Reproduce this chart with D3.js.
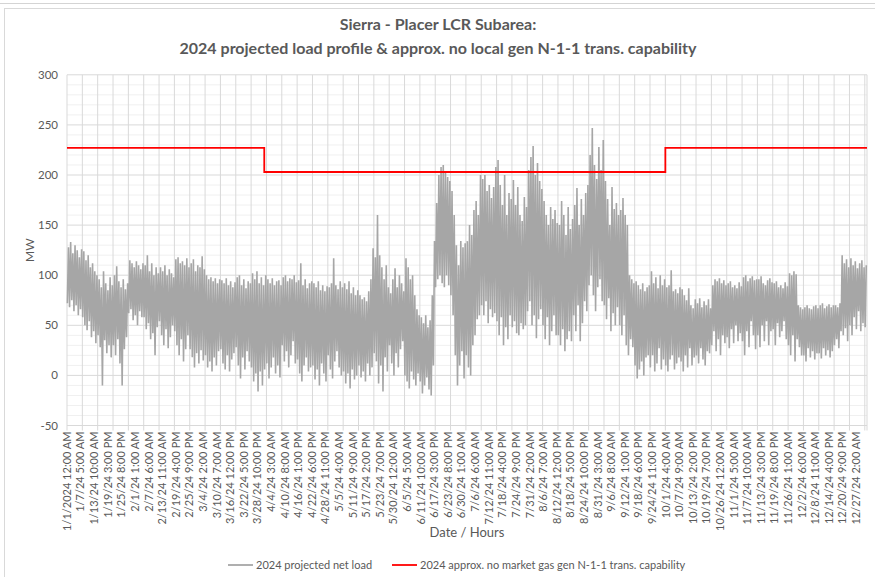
<!DOCTYPE html>
<html>
<head>
<meta charset="utf-8">
<script src="https://cdn.jsdelivr.net/npm/d3@7"></script>
<style>
  body { margin: 0; background: #fff; }
  text { font-family: Lato, "Open Sans", sans-serif; fill: #595959; }
</style>
</head>
<body>
<div id="chart"></div>
<script>
// hourly profile summarised as each day's low and peak (MW), one row per week
var dailyHigh = [
  128,133,122,130,125,118,126, 124,115,120,108,112,104,100, 96,88,104,92,85,98,90,
  100,109,94,88,96,86,92, 115,112,108,114,110,106,112, 110,120,104,112,100,108,102,
  108,104,110,100,106,102,98, 116,118,112,114,110,117,108, 112,116,104,110,108,119,106,
  100,96,98,94,97,92,96, 95,92,97,90,94,88,93, 98,100,90,96,87,94,92,
  102,96,104,92,98,90,100, 96,92,97,90,94,95,90, 98,100,94,97,96,100,93,
  95,112,90,96,87,92,94, 92,88,94,85,90,84,89, 88,92,117,90,86,94,88,
  92,86,94,82,88,80,85, 80,76,78,74,84,96,127, 118,160,120,108,96,110,88,
  82,96,107,88,100,92,84, 117,108,96,100,80,66,60, 58,52,60,48,55,80,134,
  172,200,208,210,204,198,194, 184,160,130,110,134,128,132, 134,150,140,165,174,160,200,
  196,200,184,190,177,188,208, 215,190,170,200,160,182,176, 195,170,188,160,154,178,168,
  205,218,229,200,212,194,186, 174,160,150,168,156,165,152, 150,174,160,140,168,146,156,
  170,187,150,176,160,182,190, 220,247,210,196,228,205,235, 194,176,150,188,166,172,160,
  165,177,160,150,100,96,92, 94,90,86,92,84,88,90, 104,92,98,87,100,90,96,
  88,90,105,84,86,82,88, 86,80,75,87,70,67,76, 72,77,68,74,70,76,67,
  90,96,94,97,92,95,90, 92,94,88,90,87,93,89, 98,100,94,97,99,95,96,
  96,99,92,90,95,97,93, 92,94,88,90,87,93,89, 102,100,104,101,70,68,66,
  68,70,67,66,69,70,67, 70,72,67,69,71,68,70, 70,68,72,120,112,116,108,
  117,110,114,107,112,115,108, 110
];
var dailyLow = [
  72,68,75,64,70,60,66, 58,50,45,54,38,44,32, 40,28,-10,35,22,30,18,
  30,20,36,12,-10,26,38, 62,66,55,60,50,64,58, 58,46,52,36,42,20,48,
  54,40,30,46,27,38,50, 44,30,20,36,14,26,40, 26,18,8,22,12,25,15,
  20,8,14,4,18,10,24, 26,12,6,20,4,16,22, 28,10,-3,18,6,24,14,
  8,-6,2,-16,4,-10,6, 12,-3,8,18,2,10,-2, 30,14,24,8,20,34,12,
  16,2,-6,10,18,4,8, 10,-4,6,-10,12,2,-6, 20,6,-3,14,24,8,0,
  4,-8,2,-13,6,-4,0, 10,-2,4,-6,12,0,8, 22,14,-8,10,-16,18,4,
  30,12,0,22,8,26,34, 0,-6,-13,4,-4,-10,2, -6,-18,-10,-2,-14,-20,10,
  88,96,100,92,88,100,90, 80,60,20,-10,10,24,-3, 20,8,0,30,40,56,60,
  70,60,74,52,66,58,62, 54,40,58,30,48,36,60, 48,54,42,40,52,46,50,
  64,74,50,60,37,56,66, 50,36,58,30,44,60,40, 40,30,46,24,36,44,34,
  60,44,70,34,52,74,64, 90,100,80,64,88,96,74, 70,56,77,44,62,50,68,
  50,40,60,30,20,36,28, 10,-3,6,14,0,18,20, 8,20,4,12,27,6,16,
  10,4,16,20,6,12,18, 14,4,20,8,27,10,18, 20,12,27,16,10,24,22,
  30,44,24,36,20,40,32, 38,27,46,32,50,34,42, 34,20,44,28,54,40,26,
  40,28,50,34,54,30,44, 46,30,52,38,44,54,36, 30,20,40,14,36,28,20,
  20,14,27,18,24,16,22, 22,17,27,20,25,18,24, 30,36,27,44,40,47,34,
  50,40,58,46,64,44,52, 48
];
var lowHour = 4, peakHour = 16;

// no local gen N-1-1 capability, stepped by season
var capStartHour = [0, 2160, 6552];
var capValue = [227, 203, 227];

var totalHours = 8760;
var gridEvery = 168;
var labelEvery = 149;
var yTicks = [-50, 0, 50, 100, 150, 200, 250, 300];
var tickLabels = ["1/1/2024 12:00 AM","1/7/24 5:00 AM","1/13/24 10:00 AM","1/19/24 3:00 PM","1/25/24 8:00 PM",
  "2/1/24 1:00 AM","2/7/24 6:00 AM","2/13/24 11:00 AM","2/19/24 4:00 PM","2/25/24 9:00 PM",
  "3/4/24 2:00 AM","3/10/24 7:00 AM","3/16/24 12:00 PM","3/22/24 5:00 PM","3/28/24 10:00 PM",
  "4/4/24 3:00 AM","4/10/24 8:00 AM","4/16/24 1:00 PM","4/22/24 6:00 PM","4/28/24 11:00 PM",
  "5/5/24 4:00 AM","5/11/24 9:00 AM","5/17/24 2:00 PM","5/23/24 7:00 PM","5/30/24 12:00 AM",
  "6/5/24 5:00 AM","6/11/24 10:00 AM","6/17/24 3:00 PM","6/23/24 8:00 PM","6/30/24 1:00 AM",
  "7/6/24 6:00 AM","7/12/24 11:00 AM","7/18/24 4:00 PM","7/24/24 9:00 PM","7/31/24 2:00 AM",
  "8/6/24 7:00 AM","8/12/24 12:00 PM","8/18/24 5:00 PM","8/24/24 10:00 PM","8/31/24 3:00 AM",
  "9/6/24 8:00 AM","9/12/24 1:00 PM","9/18/24 6:00 PM","9/24/24 11:00 PM","10/1/24 4:00 AM",
  "10/7/24 9:00 AM","10/13/24 2:00 PM","10/19/24 7:00 PM","10/26/24 12:00 AM","11/1/24 5:00 AM",
  "11/7/24 10:00 AM","11/13/24 3:00 PM","11/19/24 8:00 PM","11/26/24 1:00 AM","12/2/24 6:00 AM",
  "12/8/24 11:00 AM","12/14/24 4:00 PM","12/20/24 9:00 PM","12/27/24 2:00 AM"];

var width = 875, height = 577;
var plotLeft = 67, plotRight = 867, plotTop = 74.8, plotBottom = 425.5;

var svg = d3.select("#chart").append("svg")
  .attr("width", width).attr("height", height);

// frame bits from the screenshot
svg.append("line").attr("x1", 0).attr("x2", width).attr("y1", 3.5).attr("y2", 3.5)
  .attr("stroke", "#d4d4d4");
svg.append("rect").attr("x", 4.5).attr("y", 8.5).attr("width", width + 10).attr("height", height)
  .attr("fill", "#fff").attr("stroke", "#d9d9d9");

var x = d3.scaleLinear().domain([0, totalHours]).range([plotLeft, plotRight]);
var y = d3.scaleLinear().domain([-50, 300]).range([plotBottom, plotTop]);

// minor + major horizontal grid
svg.append("g").selectAll("line")
  .data(d3.range(-50, 301, 10).filter(function(v){ return v % 50 != 0; }))
  .enter().append("line")
  .attr("x1", plotLeft).attr("x2", plotRight)
  .attr("y1", function(d){ return y(d); }).attr("y2", function(d){ return y(d); })
  .attr("stroke", "#f0f0f0");
svg.append("g").selectAll("line")
  .data(yTicks)
  .enter().append("line")
  .attr("x1", plotLeft).attr("x2", plotRight)
  .attr("y1", function(d){ return y(d); }).attr("y2", function(d){ return y(d); })
  .attr("stroke", "#d9d9d9");

// weekly vertical grid with small ticks under the axis
var gridHours = d3.range(0, totalHours, gridEvery).concat([totalHours]);
svg.append("g").selectAll("line")
  .data(gridHours)
  .enter().append("line")
  .attr("x1", function(d){ return x(d); }).attr("x2", function(d){ return x(d); })
  .attr("y1", plotTop).attr("y2", plotBottom + 5)
  .attr("stroke", "#d9d9d9");

// y axis labels
svg.append("g").selectAll("text")
  .data(yTicks)
  .enter().append("text")
  .attr("x", plotLeft - 9).attr("y", function(d){ return y(d); })
  .attr("dy", "0.35em").attr("text-anchor", "end")
  .style("font-size", "11.5px")
  .text(function(d){ return d; });

svg.append("text")
  .attr("transform", "translate(34," + ((plotTop + plotBottom) / 2) + ") rotate(-90)")
  .attr("text-anchor", "middle").style("font-size", "12px")
  .text("MW");

// x labels, rotated
svg.append("g").selectAll("text")
  .data(tickLabels)
  .enter().append("text")
  .attr("transform", function(d, i){ return "translate(" + x(i * labelEvery) + "," + (plotBottom + 6) + ") rotate(-90)"; })
  .attr("dy", "0.35em").attr("text-anchor", "end")
  .style("font-size", "11px")
  .text(function(d){ return d; });

svg.append("text")
  .attr("x", (plotLeft + plotRight) / 2).attr("y", 537)
  .attr("text-anchor", "middle").style("font-size", "13px")
  .text("Date / Hours");

// load series: low then peak for every day
var loadPts = [];
dailyHigh.forEach(function(h, d){
  loadPts.push([d * 24 + lowHour, dailyLow[d]]);
  loadPts.push([d * 24 + peakHour, h]);
});
var line = d3.line()
  .x(function(d){ return x(d[0]); })
  .y(function(d){ return y(d[1]); });
svg.append("path")
  .datum(loadPts)
  .attr("d", line)
  .attr("fill", "none")
  .attr("stroke", "#a6a6a6")
  .attr("stroke-width", 1.6)
  .attr("stroke-linejoin", "miter")
  .attr("stroke-miterlimit", 2);

// capability step line
var capPts = capStartHour.map(function(h, i){ return [h, capValue[i]]; });
capPts.push([totalHours, capValue[capValue.length - 1]]);
svg.append("path")
  .datum(capPts)
  .attr("d", d3.line().curve(d3.curveStepAfter)
    .x(function(d){ return x(d[0]); })
    .y(function(d){ return y(d[1]); }))
  .attr("fill", "none")
  .attr("stroke", "#ff0000")
  .attr("stroke-width", 1.8);

// title
svg.append("text").attr("x", 438).attr("y", 30).attr("text-anchor", "middle")
  .style("font-size", "16px").style("font-weight", "bold")
  .text("Sierra - Placer LCR Subarea:");
svg.append("text").attr("x", 438).attr("y", 54).attr("text-anchor", "middle")
  .style("font-size", "16px").style("font-weight", "bold")
  .text("2024 projected load profile & approx. no local gen N-1-1 trans. capability");

// legend
var legend = [
  {label: "2024 projected net load", color: "#a6a6a6", x0: 228},
  {label: "2024 approx. no market gas gen N-1-1 trans. capability", color: "#ff0000", x0: 392}
];
var lg = svg.append("g").selectAll("g").data(legend).enter().append("g");
lg.append("line")
  .attr("x1", function(d){ return d.x0; }).attr("x2", function(d){ return d.x0 + 25; })
  .attr("y1", 565).attr("y2", 565)
  .attr("stroke", function(d){ return d.color; }).attr("stroke-width", 1.8);
lg.append("text")
  .attr("x", function(d){ return d.x0 + 28; }).attr("y", 565).attr("dy", "0.35em")
  .style("font-size", "11px")
  .text(function(d){ return d.label; });
</script>
</body>
</html>
